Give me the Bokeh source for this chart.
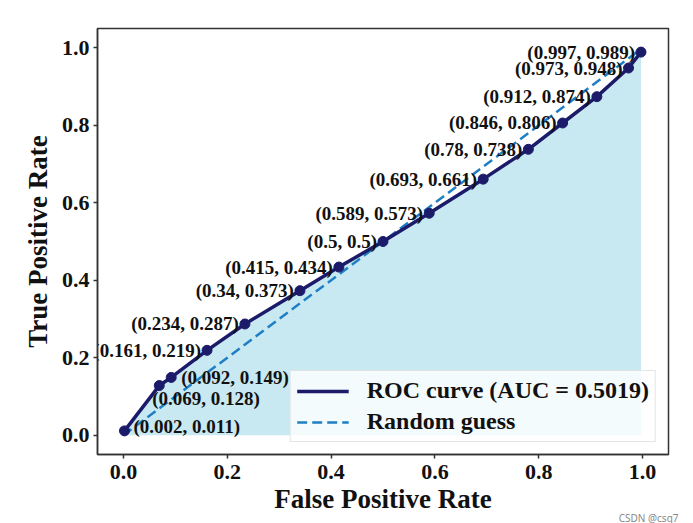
from bokeh.plotting import figure
from bokeh.models import Range1d, Legend, LegendItem, ColumnDataSource, Title, FixedTicker
from bokeh.core.properties import value
from bokeh.embed import file_html
from bokeh.resources import INLINE

# ---- data ----
fpr = [0.002, 0.069, 0.092, 0.161, 0.234, 0.34, 0.415, 0.5, 0.589, 0.693, 0.78, 0.846, 0.912, 0.973, 0.997]
tpr = [0.011, 0.128, 0.149, 0.219, 0.287, 0.373, 0.434, 0.5, 0.573, 0.661, 0.738, 0.806, 0.874, 0.948, 0.989]
auc = 0.5019
chance_x = [0.0, 1.0]
chance_y = [0.0, 1.0]
ticks = [0.0, 0.2, 0.4, 0.6, 0.8, 1.0]
tick_labels = ["0.0", "0.2", "0.4", "0.6", "0.8", "1.0"]
watermark = "CSDN @csq7"

# ---- annotation layout (screen offsets, not data) ----
ann_align = ["left", "left", "left"] + ["right"] * 12
ann_xoff = [9, -7, 10] + [-6] * 12
ann_yoff = [-4, 13, 0] + [0] * 12

FONT = "Liberation Serif"
NAVY = "#1b1b6a"
DASH = "#1f7fc4"
FILL = "#c8e8f2"

p = figure(width=693, height=523, output_backend="svg", toolbar_location=None,
           x_range=Range1d(-0.05, 1.05), y_range=Range1d(-0.05, 1.05),
           min_border_left=97, min_border_top=28, min_border_right=25, min_border_bottom=69,
           background_fill_color="white", border_fill_color="white")
p.grid.visible = False
p.outline_line_color = "#333333"
p.outline_line_width = 1.5

p.varea(x=fpr, y1=[0.0] * len(fpr), y2=tpr, fill_color=FILL, fill_alpha=1.0)
r_rand = p.line(chance_x, chance_y, line_color=DASH, line_width=2.5, line_dash="10 5")
r_roc = p.line(fpr, tpr, line_color=NAVY, line_width=3.5)
p.scatter(fpr, tpr, size=10, fill_color=NAVY, line_color=NAVY)

src = ColumnDataSource(dict(
    x=fpr, y=tpr,
    label=[f"({a}, {b})" for a, b in zip(fpr, tpr)],
    align=ann_align, xo=ann_xoff, yo=ann_yoff))
p.text(x="x", y="y", text="label", source=src, text_align="align",
       x_offset="xo", y_offset="yo", text_baseline="middle",
       text_font=value(FONT), text_font_style="bold", text_font_size="19px",
       text_color="#111111")

for ax in (p.xaxis[0], p.yaxis[0]):
    ax.ticker = FixedTicker(ticks=ticks)
    ax.major_label_overrides = {t: l for t, l in zip(ticks, tick_labels)}
    ax.minor_tick_line_color = None
    ax.major_tick_in = 0
    ax.major_tick_out = 4
    ax.major_tick_line_color = "#333333"
    ax.major_tick_line_width = 1.5
    ax.axis_line_color = "#333333"
    ax.axis_line_width = 1.5
    ax.major_label_text_font = FONT
    ax.major_label_text_font_style = "bold"
    ax.major_label_text_font_size = "22px"
    ax.major_label_text_color = "#111111"
    ax.axis_label_text_font = FONT
    ax.axis_label_text_font_style = "bold"
    ax.axis_label_text_font_size = "27px"
    ax.axis_label_text_color = "#111111"

p.xaxis.major_label_standoff = 6
p.yaxis.major_label_standoff = 4
p.xaxis.axis_label = "False Positive Rate"
p.yaxis.axis_label = "True Positive Rate"
p.xaxis.axis_label_standoff = 2
p.yaxis.axis_label_standoff = 6

legend = Legend(items=[
    LegendItem(label=f"ROC curve (AUC = {auc})", renderers=[r_roc]),
    LegendItem(label="Random guess", renderers=[r_rand]),
], location="bottom_right")
legend.margin = 12
legend.padding = 6
legend.spacing = 4
legend.glyph_width = 52
legend.glyph_height = 24
legend.label_height = 24
legend.label_standoff = 18
legend.label_text_font = FONT
legend.label_text_font_style = "bold"
legend.label_text_font_size = "24px"
legend.label_text_color = "#111111"
legend.background_fill_color = "white"
legend.background_fill_alpha = 0.8
legend.border_line_color = "#cccccc"
legend.border_line_width = 1
p.add_layout(legend)

wm = Title(text=watermark, align="right", text_font="Noto Sans", text_font_size="10px",
           text_font_style="normal", text_color="#888888", standoff=-16, offset=-10)
p.add_layout(wm, "below")

open("out.html", "w").write(file_html(p, INLINE))
